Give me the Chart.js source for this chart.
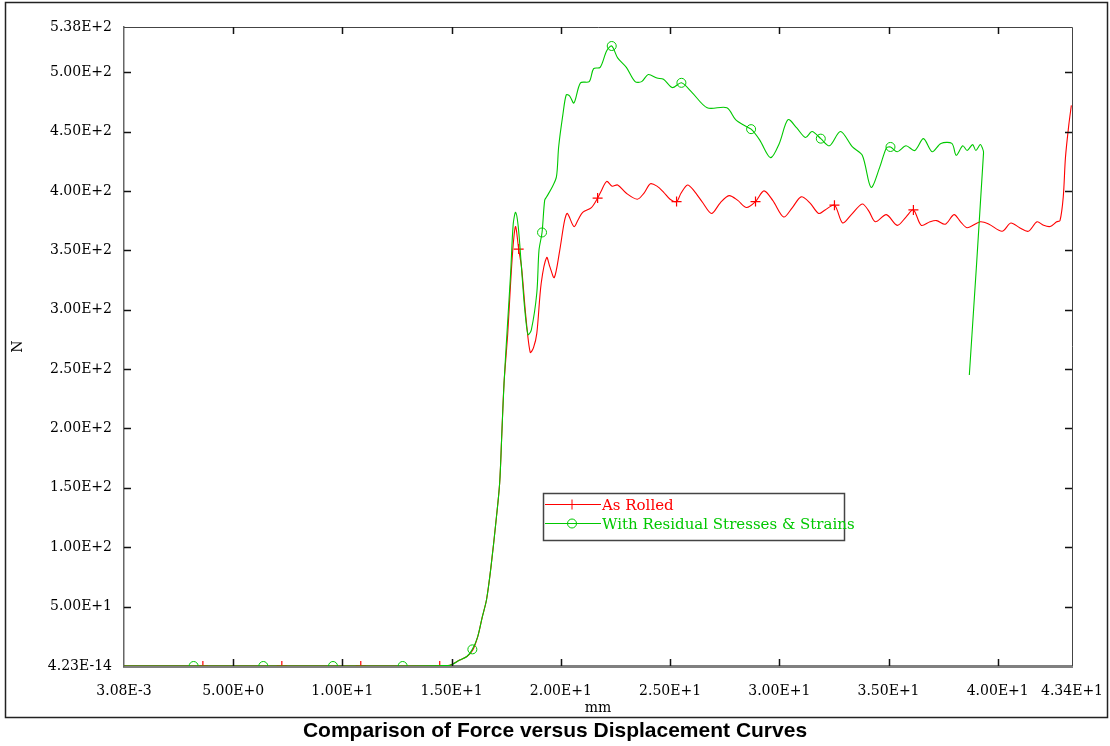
<!DOCTYPE html>
<html>
<head>
<meta charset="utf-8">
<script src="https://cdn.jsdelivr.net/npm/chart.js@4.4.1/dist/chart.umd.min.js"></script>
<style>
    html, body { margin: 0; padding: 0; background: #fff; }
    #wrap { position: relative; width: 1110px; height: 746px; }
</style>
</head>
<body>
<div id="wrap"><canvas id="forceChart" width="1110" height="746"></canvas></div>
<script>
// Displacement (mm) and force (N)
const rolledX = [0.00308, 3.614, 7.228, 10.842, 14.456, 14.9, 15.37, 15.7, 15.97, 16.2, 16.4, 16.6, 16.8, 17.05, 17.2, 17.3, 17.4, 17.57, 17.7, 17.82, 17.93,
    18.07, 18.2, 18.4, 18.6, 18.75, 18.9, 19.1, 19.35, 19.5, 19.7, 19.95, 20.17, 20.3, 20.6, 20.8, 21.0, 21.4, 21.684, 21.85, 22.1, 22.35, 22.6, 23.0,
    23.5, 23.8, 24.1, 24.4, 24.7, 25.0, 25.298, 25.5, 25.8, 26.1, 26.5, 26.9, 27.3, 27.7, 28.1, 28.5, 28.912, 29.3, 29.7, 30.2, 30.6, 31.0, 31.4,
    31.8, 32.1, 32.526, 32.9, 33.3, 33.8, 34.1, 34.4, 34.9, 35.4, 35.8, 36.14, 36.5, 36.9, 37.2, 37.6, 38.0, 38.3, 38.6, 39.2, 39.6, 40.2, 40.6,
    41.0, 41.4, 41.8, 42.1, 42.4, 42.7, 42.85, 43.0, 43.1, 43.25, 43.37];
const rolledY = [0, 0, 0, 0, 0, 0.5, 5, 8, 13.5, 25, 41, 56, 83, 125, 154, 196, 238, 280, 322, 355, 370,
    351, 336, 294, 264, 268, 280, 322, 344, 336, 327, 350, 375, 381, 370, 376, 382, 386, 394, 400, 408, 404, 405, 398,
    393, 398, 406, 404, 399, 393, 391, 398, 405, 400, 390, 381, 390, 396, 392, 386, 391, 400, 392, 378, 386, 395, 390,
    381, 384, 388, 373, 380, 389, 383, 374, 380, 371, 378, 384, 371, 374, 375, 372, 380, 374, 369, 374, 372, 366, 373,
    369, 366, 374, 371, 370, 374, 375, 395, 428, 455, 472];
const rolledMarkers = [3.614, 7.228, 10.842, 14.456, 18.07, 21.684, 25.298, 28.912, 32.526, 36.14];

const residualX = [0.00308, 3.19, 6.38, 9.57, 12.76, 14.9, 15.37, 15.7, 15.95, 16.2, 16.4, 16.6, 16.8, 17.05, 17.2, 17.3, 17.4, 17.55, 17.7, 17.82, 17.93,
    18.05, 18.2, 18.35, 18.5, 18.65, 18.9, 19.0, 19.14, 19.26, 19.35, 19.6, 19.8, 19.9, 20.1, 20.25, 20.4, 20.6, 20.9, 21.3, 21.5, 21.8, 22.1,
    22.33, 22.6, 23.0, 23.4, 23.7, 24.0, 24.4, 24.7, 25.1, 25.52, 26.0, 26.7, 27.6, 28.0, 28.4, 28.71, 29.1, 29.6, 30.0, 30.4, 30.8, 31.2,
    31.5, 31.9, 32.3, 32.8, 33.35, 33.8, 34.2, 34.6, 34.9, 35.09, 35.4, 35.8, 36.2, 36.6, 37.0, 37.4, 37.9, 38.1, 38.4, 38.6, 38.85, 39.0,
    39.2, 39.3, 39.35, 38.7];
const residualY = [0, 0, 0, 0, 0, 0.5, 5, 8, 14, 25, 41, 56, 83, 125, 154, 196, 238, 285, 330, 372, 382,
    370, 335, 300, 279, 283, 314, 350, 365, 392, 395, 403, 412, 437, 465, 481, 480, 474, 491, 492, 503, 504, 518,
    522, 512, 504, 492, 492, 498, 495, 494, 487, 491, 483, 470, 470, 460, 455, 452, 443, 428, 440, 460, 453, 445,
    450, 444, 438, 450, 437, 430, 403, 420, 436, 437, 433, 438, 434, 444, 433, 440, 440, 430, 438, 434, 439, 434,
    439, 436, 432, 245];
const residualMarkers = [3.19, 6.38, 9.57, 12.76, 15.95, 19.14, 22.33, 25.52, 28.71, 31.9, 35.09];

const seriesNames = ['As Rolled', 'With Residual Stresses & Strains'];

const xTickValues = [0.00308, 5, 10, 15, 20, 25, 30, 35, 40, 43.4];
const xTickLabels = ['3.08E-3', '5.00E+0', '1.00E+1', '1.50E+1', '2.00E+1', '2.50E+1', '3.00E+1', '3.50E+1', '4.00E+1', '4.34E+1'];
const yTickValues = [4.23e-14, 50, 100, 150, 200, 250, 300, 350, 400, 450, 500, 538];
const yTickLabels = ['4.23E-14', '5.00E+1', '1.00E+2', '1.50E+2', '2.00E+2', '2.50E+2', '3.00E+2', '3.50E+2', '4.00E+2', '4.50E+2', '5.00E+2', '5.38E+2'];

const RED = '#ff0000';
const GREEN = '#00c800';
const SERIF = "'DejaVu Serif', serif";

const toPoints = (xs, ys) => xs.map((x, i) => ({ x: x, y: ys[i] }));
const isMarker = (list, v) => list.some(m => Math.abs(m - v) < 1e-9);

// frame, inward tick marks and the boxed legend
const framePlugin = {
    id: 'framePlugin',
    afterDraw(chart) {
        const { ctx, chartArea: a, scales: { x, y } } = chart;
        ctx.save();
        // top and right edges of the plot box
        ctx.strokeStyle = '#444';
        ctx.lineWidth = 1;
        ctx.beginPath();
        ctx.moveTo(a.left, a.top + 0.5);
        ctx.lineTo(a.right + 0.5, a.top + 0.5);
        ctx.lineTo(a.right + 0.5, a.bottom);
        ctx.stroke();

        // tick marks pointing into the plot
        ctx.strokeStyle = '#111';
        ctx.lineWidth = 1.5;
        const len = 7;
        ctx.beginPath();
        xTickValues.slice(1, -1).forEach(v => {
            const px = Math.round(x.getPixelForValue(v)) + 0.5;
            ctx.moveTo(px, a.bottom); ctx.lineTo(px, a.bottom - len);
            ctx.moveTo(px, a.top); ctx.lineTo(px, a.top + len);
        });
        yTickValues.slice(1, -1).forEach(v => {
            const py = Math.round(y.getPixelForValue(v)) + 0.5;
            ctx.moveTo(a.left, py); ctx.lineTo(a.left + len, py);
            ctx.moveTo(a.right, py); ctx.lineTo(a.right - len, py);
        });
        ctx.stroke();

        // legend box
        const lx = 543, ly = 493, lw = 301, lh = 47;
        ctx.fillStyle = '#fff';
        ctx.fillRect(lx, ly, lw, lh);
        ctx.strokeStyle = '#444';
        ctx.lineWidth = 1.5;
        ctx.strokeRect(lx + 0.5, ly + 0.5, lw, lh);
        const rows = [
            { name: seriesNames[0], color: RED, y: ly + 11, marker: 'cross' },
            { name: seriesNames[1], color: GREEN, y: ly + 30, marker: 'circle' }
        ];
        ctx.font = '15px ' + SERIF;
        ctx.textBaseline = 'middle';
        rows.forEach(r => {
            ctx.strokeStyle = r.color;
            ctx.lineWidth = 1;
            ctx.beginPath();
            ctx.moveTo(lx + 2, r.y + 0.5);
            ctx.lineTo(lx + 58, r.y + 0.5);
            ctx.stroke();
            ctx.fillStyle = 'rgba(0,0,0,0)';
            Chart.helpers.drawPoint(ctx, { pointStyle: r.marker, radius: r.marker === 'cross' ? 5 : 4.5, borderWidth: 1 }, lx + 29, r.y + 0.5);
            ctx.fillStyle = r.color;
            ctx.fillText(r.name, lx + 59, r.y + 2);
        });

        // outer frame round the whole graph
        ctx.strokeStyle = '#222';
        ctx.lineWidth = 1.5;
        ctx.strokeRect(5.5, 2.5, 1102, 715);
        ctx.restore();
    }
};

try {
    const chartCtx = document.getElementById('forceChart');
    new Chart(chartCtx, {
        type: 'line',
        data: {
            datasets: [{
                label: seriesNames[1],
                data: toPoints(residualX, residualY),
                borderColor: GREEN,
                borderWidth: 1.1,
                backgroundColor: 'rgba(0,0,0,0)',
                pointStyle: 'circle',
                pointRadius: c => isMarker(residualMarkers, c.raw.x) ? 4.5 : 0,
                pointBorderColor: GREEN,
                pointBackgroundColor: 'rgba(0,0,0,0)',
                pointBorderWidth: 1,
                tension: 0.3,
                order: 0
            }, {
                label: seriesNames[0],
                data: toPoints(rolledX, rolledY),
                borderColor: RED,
                borderWidth: 1.1,
                backgroundColor: 'rgba(0,0,0,0)',
                pointStyle: 'cross',
                pointRadius: c => isMarker(rolledMarkers, c.raw.x) ? 5 : 0,
                pointBorderColor: RED,
                pointBackgroundColor: RED,
                pointBorderWidth: 1.2,
                tension: 0.3,
                order: 1
            }]
        },
        options: {
            responsive: false,
            animation: false,
            events: [],
            layout: {
                padding: { left: 0, right: 0, top: 27, bottom: 0 }
            },
            scales: {
                x: {
                    type: 'linear',
                    min: xTickValues[0],
                    max: xTickValues[xTickValues.length - 1],
                    afterBuildTicks: s => { s.ticks = xTickValues.map(v => ({ value: v })); },
                    afterFit: s => { s.height = 50.8; s.paddingLeft = 0; s.paddingRight = 0; },
                    grid: { display: false, drawTicks: false },
                    border: { display: true, color: '#808080', width: 3 },
                    ticks: {
                        autoSkip: false,
                        maxRotation: 0,
                        padding: 17,
                        color: '#000',
                        font: { family: SERIF, size: 14 },
                        callback: (v, i) => xTickLabels[i]
                    },
                    title: {
                        display: true,
                        text: 'mm',
                        color: '#000',
                        font: { family: SERIF, size: 14 },
                        padding: { top: 0, bottom: 0 }
                    }
                },
                y: {
                    type: 'linear',
                    min: 0,
                    max: yTickValues[yTickValues.length - 1],
                    afterBuildTicks: s => { s.ticks = yTickValues.map(v => ({ value: v })); },
                    afterFit: s => { s.width = 124; s.paddingTop = 0; s.paddingBottom = 0; },
                    grid: { display: false, drawTicks: false },
                    border: { display: true, color: '#666', width: 1.5 },
                    ticks: {
                        autoSkip: false,
                        padding: 12,
                        color: '#000',
                        font: { family: SERIF, size: 14 },
                        callback: (v, i) => yTickLabels[i]
                    },
                    title: {
                        display: true,
                        text: 'N',
                        color: '#000',
                        font: { family: SERIF, size: 14 },
                        padding: { top: 10, bottom: 0 }
                    }
                },
                // empty strip on the right, keeps the title centred on the page
                yRight: {
                    type: 'linear',
                    position: 'right',
                    display: true,
                    min: 0,
                    max: yTickValues[yTickValues.length - 1],
                    afterFit: s => { s.width = 38; s.paddingTop = 0; s.paddingBottom = 0; },
                    grid: { display: false, drawTicks: false },
                    border: { display: false },
                    ticks: { display: false }
                }
            },
            plugins: {
                legend: { display: false },
                tooltip: { enabled: false },
                title: {
                    display: true,
                    position: 'bottom',
                    text: 'Comparison of Force versus Displacement Curves',
                    color: '#000',
                    font: { family: "'Liberation Sans', Arial, sans-serif", size: 21, weight: 'bold' },
                    padding: { top: 2, bottom: 2 }
                }
            }
        },
        plugins: [framePlugin]
    });
} catch (e) {
    console.error('chart failed:', e);
}
</script>
</body>
</html>
